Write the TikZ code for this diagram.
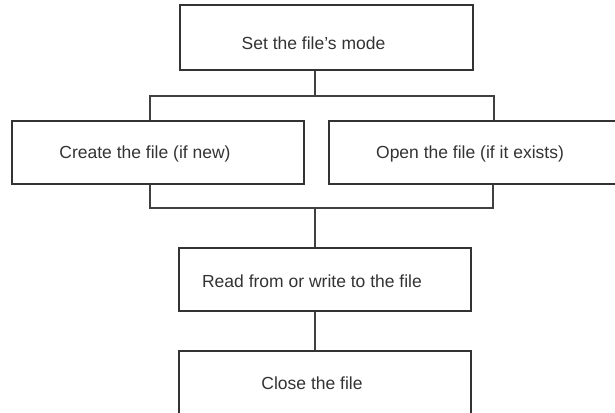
\documentclass[tikz,border=0pt]{standalone}
\usepackage{fontspec}
\setmainfont{Liberation Sans}
\begin{document}
\begin{tikzpicture}[x=1pt,y=-1pt,
                    thick,
                    box node/.style={rectangle,draw=black!80,line width=1.7pt,
                                     minimum width=292pt,minimum height=63pt,inner sep=0pt},
                    box text/.style={text=black!80,font=\fontsize{17.5}{20}\selectfont,xshift=-13pt},
                    joint/.style={draw=black!75,line width=1.7pt}]
        \useasboundingbox (0,0) rectangle (615,412);
        \clip (0,0) rectangle (615,412);

        % Define boxes
        \node[box node,minimum width=293pt,minimum height=65pt,
              label={[box text,yshift=-6pt]center:Set the file's mode}] (mode) at (326.5,37.5) {};
        \node[box node,label={[box text,yshift=-1pt]center:Create the file (if new)}] (create) at (158,152.5) {};
        \node[box node,label={[box text,xshift=8pt,yshift=-1pt]center:Open the file (if it exists)}] (open) at (475,152.5) {};
        \node[box node,label={[box text,yshift=-2pt]center:Read from or write to the file}] (rw) at (325,279.5) {};
        \node[box node,label={[box text,yshift=-1pt]center:Close the file}] (close) at (325,382.5) {};

        % Define joints
        \coordinate (split) at (315,96);
        \coordinate (lsplit) at (150,96);
        \coordinate (rsplit) at (494,96);
        \coordinate (merge) at (315,208);
        \coordinate (lmerge) at (150,208);
        \coordinate (rmerge) at (493,208);

        % Define connectors
        \draw[joint] (split |- mode.south) -- (split);
        \draw[joint] (lsplit |- create.north) -- (lsplit) -- (rsplit) -- (rsplit |- open.north);
        \draw[joint] (lmerge |- create.south) -- (lmerge) -- (rmerge) -- (rmerge |- open.south);
        \draw[joint] (merge) -- (merge |- rw.north);
        \draw[joint] (merge |- rw.south) -- (merge |- close.north);
\end{tikzpicture}
\end{document}
